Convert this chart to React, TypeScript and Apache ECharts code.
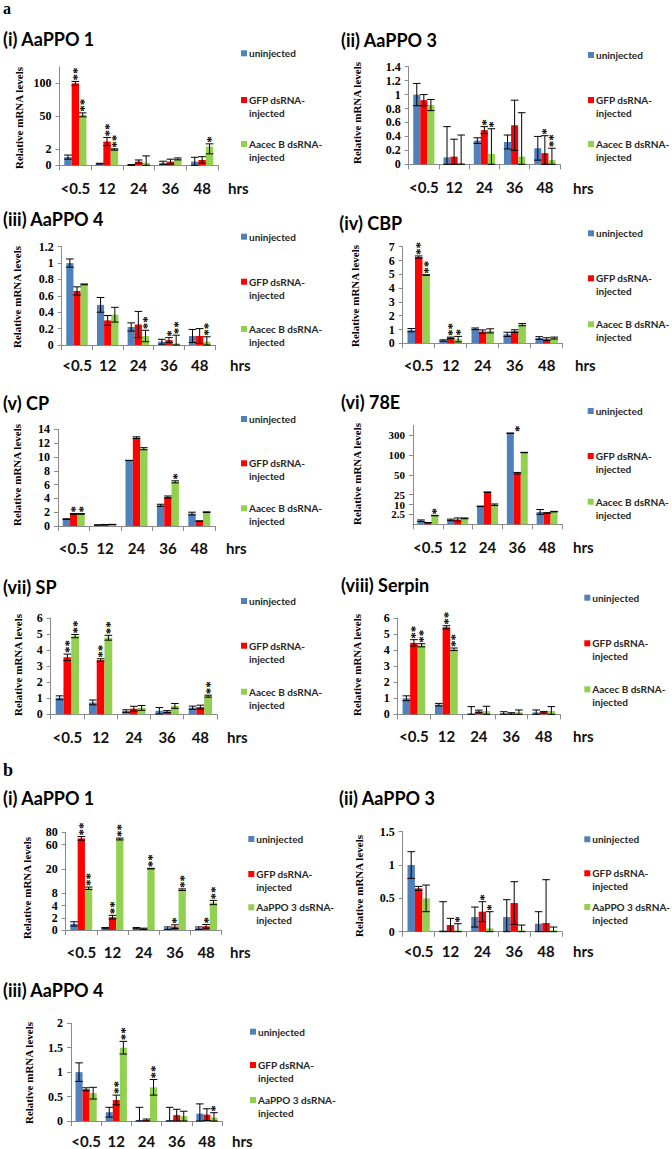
import React, { useEffect, useRef } from "react";
import * as echarts from "echarts";

const CATEGORIES = ["<0.5", "12", "24", "36", "48"];
const LEGEND_A = ["uninjected", "GFP dsRNA-\ninjected", "Aacec B dsRNA-\ninjected"];
const LEGEND_B = ["uninjected", "GFP dsRNA-\ninjected", "AaPPO 3 dsRNA-\ninjected"];
const COLORS = ["#4F81BD", "#FF0000", "#92D050"];
const NO_STARS = ["", "", "", "", ""];

// a (i) AaPPO 1  (broken axis)
const A1_MEAN = [
  [1.0, 0.2, 0.05, 0.3, 0.45],
  [100, 12.8, 0.45, 0.45, 0.65],
  [52, 2.0, 0.3, 0.78, 5.4],
];
const A1_ERR = [
  [0.25, 0.05, 0.05, 0.2, 0.53],
  [3, 6, 0.2, 0.3, 0.4],
  [3, 0.15, 0.85, 0.12, 4],
];
const A1_STARS = [NO_STARS, ["**", "**", "", "", ""], ["**", "**", "", "", "*"]];
const A1_TICKS = [0, 2, 50, 100];
const A1_BREAKS = [[0, 0], [2, 1], [50, 3], [100, 5]];

// a (ii) AaPPO 3
const A2_MEAN = [
  [1.0, 0.1, 0.34, 0.32, 0.23],
  [0.92, 0.11, 0.49, 0.56, 0.16],
  [0.85, 0.02, 0.15, 0.11, 0.06],
];
const A2_ERR = [
  [0.16, 0.44, 0.04, 0.1, 0.17],
  [0.08, 0.25, 0.05, 0.36, 0.25],
  [0.08, 0.4, 0.36, 0.63, 0.17],
];
const A2_STARS = [NO_STARS, ["", "", "*", "", "*"], ["", "", "*", "", "**"]];

// a (iii) AaPPO 4
const A3_MEAN = [
  [1.0, 0.49, 0.22, 0.04, 0.11],
  [0.66, 0.3, 0.25, 0.06, 0.11],
  [0.74, 0.37, 0.11, 0.02, 0.04],
];
const A3_ERR = [
  [0.05, 0.09, 0.05, 0.03, 0.08],
  [0.05, 0.06, 0.16, 0.03, 0.09],
  [0.005, 0.09, 0.07, 0.1, 0.06],
];
const A3_STARS = [NO_STARS, ["", "", "", "*", ""], ["", "", "**", "**", "**"]];

// a (iv) CBP
const A4_MEAN = [
  [0.95, 0.2, 1.05, 0.65, 0.38],
  [6.25, 0.4, 0.85, 0.88, 0.3],
  [4.95, 0.3, 0.9, 1.35, 0.38],
];
const A4_ERR = [
  [0.12, 0.05, 0.06, 0.15, 0.1],
  [0.08, 0.05, 0.12, 0.1, 0.1],
  [0.02, 0.2, 0.15, 0.08, 0.07],
];
const A4_STARS = [NO_STARS, ["**", "**", "", "", ""], ["**", "*", "", "", ""]];

// a (v) CP
const A5_MEAN = [
  [1.0, 0.15, 9.5, 3.0, 1.8],
  [1.75, 0.2, 12.8, 4.2, 0.72],
  [1.75, 0.22, 11.2, 6.4, 2.0],
];
const A5_ERR = [
  [0.05, 0.02, 0.02, 0.15, 0.2],
  [0.05, 0.02, 0.12, 0.15, 0.03],
  [0.05, 0.02, 0.15, 0.15, 0.05],
];
const A5_STARS = [NO_STARS, ["*", "", "", "", ""], ["*", "", "", "*", ""]];

// a (vi) 78E (broken axis)
const A6_MEAN = [
  [0.9, 1.1, 8.6, 320, 4.4],
  [0.4, 1.2, 28, 54, 3.6],
  [2.2, 1.5, 10, 125, 4.6],
];
const A6_ERR = [
  [0.2, 0.2, 0.2, 2, 1.8],
  [0.05, 0.4, 0.3, 2, 0.2],
  [0.05, 0.1, 0.8, 2, 0.2],
];
const A6_STARS = [NO_STARS, ["", "", "", "*", ""], ["*", "", "", "", ""]];
const A6_STAR_AT = [[null, null, null, null, null], [null, null, null, 322, null], [null, null, null, null, null]];
const A6_TICKS = [0, 2.5, 10, 25, 50, 100, 300];
const A6_BREAKS = [[0, 0], [2.5, 1], [10, 2], [25, 3], [50, 5], [100, 7], [300, 9]];

// a (vii) SP
const A7_MEAN = [
  [1.03, 0.74, 0.2, 0.22, 0.41],
  [3.55, 3.38, 0.35, 0.17, 0.45],
  [4.87, 4.77, 0.4, 0.52, 1.13],
];
const A7_ERR = [
  [0.12, 0.15, 0.08, 0.2, 0.1],
  [0.2, 0.08, 0.15, 0.06, 0.12],
  [0.1, 0.15, 0.15, 0.15, 0.06],
];
const A7_STARS = [NO_STARS, ["**", "**", "", "", ""], ["**", "**", "", "", "**"]];

// a (viii) Serpin
const A8_MEAN = [
  [1.0, 0.6, 0.05, 0.06, 0.12],
  [4.45, 5.42, 0.18, 0.05, 0.13],
  [4.3, 4.05, 0.2, 0.12, 0.2],
];
const A8_ERR = [
  [0.15, 0.08, 0.43, 0.1, 0.15],
  [0.2, 0.1, 0.08, 0.05, 0.05],
  [0.1, 0.08, 0.3, 0.15, 0.28],
];
const A8_STARS = [NO_STARS, ["**", "**", "", "", ""], ["**", "**", "", "", ""]];

// b (i) AaPPO 1 (broken axis)
const B1_MEAN = [
  [1.0, 0.3, 0.3, 0.3, 0.3],
  [70, 2.1, 0.2, 0.55, 0.6],
  [10.5, 69, 20.5, 9.8, 5.0],
];
const B1_ERR = [
  [0.35, 0.1, 0.1, 0.2, 0.2],
  [3, 0.3, 0.1, 0.3, 0.3],
  [0.6, 1.5, 0.5, 0.4, 0.7],
];
const B1_STARS = [NO_STARS, ["**", "**", "", "*", "*"], ["**", "**", "**", "**", "**"]];
const B1_TICKS = [0, 2, 4, 8, 20, 60, 80];
const B1_BREAKS = [[0, 0], [2, 1], [4, 2], [8, 3], [20, 5], [60, 7], [80, 8]];

// b (ii) AaPPO 3
const B2_MEAN = [
  [1.0, 0.02, 0.22, 0.22, 0.12],
  [0.65, 0.1, 0.3, 0.43, 0.13],
  [0.5, 0.02, 0.05, 0.02, 0.02],
];
const B2_ERR = [
  [0.2, 0.43, 0.15, 0.26, 0.18],
  [0.03, 0.1, 0.15, 0.32, 0.65],
  [0.2, 0.1, 0.25, 0.08, 0.05],
];
const B2_STARS = [NO_STARS, ["", "", "*", "", ""], ["", "*", "*", "", ""]];

// b (iii) AaPPO 4
const B3_MEAN = [
  [1.0, 0.18, 0.02, 0.02, 0.15],
  [0.65, 0.43, 0.02, 0.12, 0.13],
  [0.57, 1.5, 0.69, 0.1, 0.07],
];
const B3_ERR = [
  [0.19, 0.1, 0.26, 0.26, 0.2],
  [0.03, 0.1, 0.02, 0.12, 0.12],
  [0.12, 0.13, 0.16, 0.1, 0.1],
];
const B3_STARS = [NO_STARS, ["", "**", "", "", ""], ["", "**", "**", "", "*"]];

type Panel = any;

const PANELS: Panel[] = [
  { title: "(i) AaPPO 1", mean: A1_MEAN, err: A1_ERR, stars: A1_STARS, breaks: A1_BREAKS, ticks: A1_TICKS, max: 6,
    g: [59.5, 67, 218, 165.3], yName: [19, 118], tPos: [3, 39], leg: [241, 53.3, 100, 144], names: LEGEND_A, xm: 15, hrs: [228, 188] },
  { title: "(ii) AaPPO 3", mean: A2_MEAN, err: A2_ERR, stars: A2_STARS, max: 1.4, interval: 0.2,
    g: [408.7, 66.7, 560, 164.3], yName: [357, 113], tPos: [341, 40], leg: [588, 55, 100, 144], names: LEGEND_A, xm: 15.5, hrs: [573, 188] },
  { title: "(iii) AaPPO 4", mean: A3_MEAN, err: A3_ERR, stars: A3_STARS, max: 1.2, interval: 0.2,
    g: [61.7, 246.7, 215, 345], yName: [17, 297], tPos: [3, 219], leg: [241, 236.7, 281.7, 329], names: LEGEND_A, xm: 12.5, hrs: [230, 365] },
  { title: "(iv) CBP", mean: A4_MEAN, err: A4_ERR, stars: A4_STARS, max: 7, interval: 1,
    g: [402.7, 246.7, 562.7, 343.3], yName: [355, 296], tPos: [339.3, 222.5], leg: [588, 233.3, 278.3, 324.3], names: LEGEND_A, xm: 14, hrs: [575, 365] },
  { title: "(v) CP", mean: A5_MEAN, err: A5_ERR, stars: A5_STARS, max: 14, interval: 2,
    g: [58, 429.4, 215, 526], yName: [17, 475], tPos: [3, 403], leg: [241, 419, 463.3, 508.3], names: LEGEND_A, xm: 14, hrs: [226, 547.7] },
  { title: "(vi) 78E", mean: A6_MEAN, err: A6_ERR, stars: A6_STARS, starAt: A6_STAR_AT, breaks: A6_BREAKS, ticks: A6_TICKS, max: 10, tickFont: 11, tickLH: 9,
    g: [413, 425.3, 562, 524.3], yName: [357, 474], tPos: [341, 401.7], leg: [587.7, 411, 456, 501.7], names: LEGEND_A, xm: 15, hrs: [573, 546.7] },
  { title: "(vii) SP", mean: A7_MEAN, err: A7_ERR, stars: A7_STARS, max: 6, interval: 1,
    g: [50.7, 618, 217, 714.3], yName: [17.5, 665], tPos: [3, 586.7], leg: [241, 601, 645.7, 691.7], names: LEGEND_A, xm: 15, hrs: [227, 736.7] },
  { title: "(viii) Serpin", mean: A8_MEAN, err: A8_ERR, stars: A8_STARS, max: 6, interval: 1,
    g: [397.7, 618, 560, 714.3], yName: [357, 665], tPos: [341, 585], leg: [584.3, 597.7, 643.3, 689.3], names: LEGEND_A, xm: 14, hrs: [573, 736] },
  { title: "(i) AaPPO 1", mean: B1_MEAN, err: B1_ERR, stars: B1_STARS, breaks: B1_BREAKS, ticks: B1_TICKS, max: 8,
    g: [65.7, 832.3, 221.7, 930], yName: [27, 888], tPos: [3, 798.3], leg: [248.3, 839, 874, 907.3], names: LEGEND_B, xm: 14, hrs: [230, 951.7] },
  { title: "(ii) AaPPO 3", mean: B2_MEAN, err: B2_ERR, stars: B2_STARS, max: 1.5, interval: 0.5,
    g: [402.7, 831.7, 562, 931.7], yName: [358.5, 886], tPos: [339, 798.3], leg: [584.3, 839.3, 873.3, 907], names: LEGEND_B, xm: 12, hrs: [573, 951] },
  { title: "(iii) AaPPO 4", mean: B3_MEAN, err: B3_ERR, stars: B3_STARS, max: 2, interval: 0.5,
    g: [71, 1023.3, 222, 1121], yName: [29, 1073], tPos: [3, 990], leg: [250, 1031.7, 1065, 1100], names: LEGEND_B, xm: 12.5, hrs: [232, 1140.5] },
];

const AXIS_COLOR = "#8a8a8a";
const SERIF = '"Liberation Serif", "DejaVu Serif", serif';
const SANS = 'Lato, "Open Sans", sans-serif';
const CAT_GAP = 0.3;

function makeMap(breaks?: number[][]) {
  if (!breaks) return (v: number) => v;
  return (v: number) => {
    for (let i = 1; i < breaks.length; i++) {
      const [r0, u0] = breaks[i - 1];
      const [r1, u1] = breaks[i];
      if (v <= r1 || i === breaks.length - 1) return u0 + ((v - r0) * (u1 - u0)) / (r1 - r0);
    }
    return v;
  };
}

function buildOption() {
  const grid: any[] = [];
  const xAxis: any[] = [];
  const yAxis: any[] = [];
  const series: any[] = [];
  const graphic: any[] = [];

  graphic.push({ type: "text", x: 3, y: 0, style: { text: "a", font: `bold 16px ${SERIF}`, fill: "#000", textAlign: "left", textVerticalAlign: "top", verticalAlign: "top" } });
  graphic.push({ type: "text", x: 3, y: 770, style: { text: "b", font: `bold 18px ${SERIF}`, fill: "#000", textAlign: "left", textVerticalAlign: "middle", verticalAlign: "middle" } });

  PANELS.forEach((p, i) => {
    const f = makeMap(p.breaks);
    const [l, t, r, b] = p.g;
    grid.push({ left: l, top: t, width: r - l, height: b - t, containLabel: false });
    xAxis.push({
      type: "category", gridIndex: i, data: CATEGORIES,
      axisLine: { lineStyle: { color: AXIS_COLOR, width: 1 } },
      axisTick: { show: true, length: 5, lineStyle: { color: AXIS_COLOR } },
      axisLabel: { interval: 0, margin: p.xm, fontFamily: SANS, fontWeight: "bold", fontSize: 15, lineHeight: 15, color: "#111" },
      splitLine: { show: false },
    });
    const y: any = {
      type: "value", gridIndex: i, min: 0, max: p.max,
      splitLine: { show: false },
      axisLine: { show: true, lineStyle: { color: AXIS_COLOR, width: 1 } },
      axisTick: { show: true, length: 4, lineStyle: { color: AXIS_COLOR } },
      axisLabel: { margin: 8, fontFamily: SERIF, fontWeight: "bold", fontSize: p.tickFont || 12, lineHeight: p.tickLH || 12, color: "#000" },
    };
    if (p.breaks) {
      const cv = p.ticks.map(f);
      y.axisLabel.customValues = cv;
      y.axisTick.customValues = cv;
      y.axisLabel.formatter = (v: number) => {
        const k = cv.findIndex((c: number) => Math.abs(c - v) < 1e-6);
        return k >= 0 ? String(p.ticks[k]) : "";
      };
    } else {
      y.interval = p.interval;
    }
    yAxis.push(y);

    p.mean.forEach((row: number[], s: number) => {
      series.push({
        type: "bar", name: p.names[s], xAxisIndex: i, yAxisIndex: i,
        data: row.map(f), barGap: "0%", barCategoryGap: `${CAT_GAP * 100}%`,
        itemStyle: { color: COLORS[s] }, silent: true,
      });
    });

    const items: any[] = [];
    p.mean.forEach((row: number[], s: number) =>
      row.forEach((m: number, c: number) =>
        items.push({ c, s, m, e: p.err[s][c], star: p.stars[s][c], at: p.starAt ? p.starAt[s][c] : null })
      )
    );
    series.push({
      type: "custom", xAxisIndex: i, yAxisIndex: i, z: 5, silent: true, clip: false,
      data: items.map((it) => [it.c, f(it.m)]),
      encode: { x: 0, y: 1 },
      renderItem: (params: any, api: any) => {
        const it = items[params.dataIndex];
        const base = api.coord([it.c, 0]);
        const band = api.size([1, 0])[0];
        const bw = (band * (1 - CAT_GAP)) / 3;
        const x = base[0] + (it.s - 1) * bw;
        const children: any[] = [];
        const yTop = api.coord([it.c, f(it.m + it.e)])[1];
        const yBot = api.coord([it.c, f(Math.max(it.m - it.e, 0))])[1];
        const cap = 3.8;
        const ls = { stroke: "#000", lineWidth: 1 };
        if (it.e > 0) {
          children.push({ type: "line", shape: { x1: x, y1: yTop, x2: x, y2: yBot }, style: ls });
          children.push({ type: "line", shape: { x1: x - cap, y1: yTop, x2: x + cap, y2: yTop }, style: ls });
          children.push({ type: "line", shape: { x1: x - cap, y1: yBot, x2: x + cap, y2: yBot }, style: ls });
        }
        if (it.star) {
          const ya = it.at != null ? api.coord([it.c, f(it.at)])[1] : yTop;
          children.push({
            type: "text", x: x + 1, y: ya - 1, rotation: Math.PI / 2,
            style: { text: it.star, font: `bold 13px ${SERIF}`, fill: "#000", textAlign: "left", textVerticalAlign: "middle", verticalAlign: "middle" },
          });
        }
        return { type: "group", children };
      },
    });

    graphic.push({ type: "text", x: p.tPos[0], y: p.tPos[1], style: { text: p.title, font: `bold 18px ${SANS}`, fill: "#000", textAlign: "left", textVerticalAlign: "middle", verticalAlign: "middle" } });
    graphic.push({ type: "text", x: p.yName[0], y: p.yName[1], rotation: Math.PI / 2, style: { text: "Relative mRNA levels", font: `bold 11px ${SERIF}`, fill: "#000", textAlign: "center", textVerticalAlign: "middle", verticalAlign: "middle" } });
    graphic.push({ type: "text", x: p.hrs[0], y: p.hrs[1], style: { text: "hrs", font: `bold 15px ${SANS}`, lineHeight: 15, fill: "#111", textAlign: "left", textVerticalAlign: "middle", verticalAlign: "middle" } });
    const lx = p.leg[0];
    for (let s = 0; s < 3; s++) {
      const ly = p.leg[s + 1];
      graphic.push({ type: "rect", shape: { x: lx, y: ly - 3, width: 6, height: 6 }, style: { fill: COLORS[s] } });
      const lines = p.names[s].split("\n");
      lines.forEach((ln: string, k: number) => {
        graphic.push({ type: "text", x: lx + 8, y: ly + k * 12.8, style: { text: ln, font: `bold 10px ${SANS}`, fill: "#262626", textAlign: "left", textVerticalAlign: "middle", verticalAlign: "middle" } });
      });
    }
  });

  return { animation: false, backgroundColor: "#fff", grid, xAxis, yAxis, series, graphic };
}

export default function App() {
  const ref = useRef<HTMLDivElement>(null);
  useEffect(() => {
    if (!ref.current) return;
    const chart = echarts.init(ref.current, null, { renderer: "svg" });
    chart.setOption(buildOption() as any);
    return () => chart.dispose();
  }, []);
  return <div ref={ref} style={{ position: "absolute", left: 0, top: 0, width: 672, height: 1149 }} />;
}
